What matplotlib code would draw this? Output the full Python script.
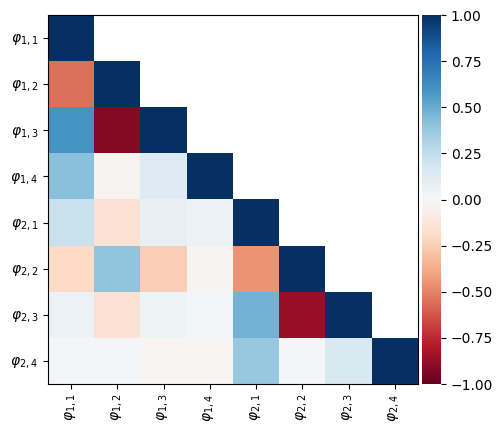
import numpy as np
import matplotlib.pyplot as plt

labels = [r'$\varphi_{1,1}$', r'$\varphi_{1,2}$', r'$\varphi_{1,3}$', r'$\varphi_{1,4}$',
          r'$\varphi_{2,1}$', r'$\varphi_{2,2}$', r'$\varphi_{2,3}$', r'$\varphi_{2,4}$']

# lower triangle rows (below diagonal), diagonal is 1
row_12 = [-0.55]
row_13 = [0.60, -0.92]
row_14 = [0.42, -0.03, 0.13]
row_21 = [0.22, -0.15, 0.08, 0.06]
row_22 = [-0.20, 0.40, -0.25, -0.03, -0.45]
row_23 = [0.06, -0.15, 0.04, 0.01, 0.47, -0.87]
row_24 = [0.01, 0.01, -0.02, -0.01, 0.38, 0.01, 0.15]

rows = [[], row_12, row_13, row_14, row_21, row_22, row_23, row_24]

n = len(labels)
corr = np.full((n, n), np.nan)
for i, r in enumerate(rows):
    corr[i, :len(r)] = r
    corr[i, i] = 1.0

fig = plt.figure(figsize=(5.03, 4.32), dpi=100)
ax = fig.add_axes([48 / 503, 48 / 432, 370 / 503, 369 / 432])
cax = fig.add_axes([422 / 503, 48 / 432, 19 / 503, 369 / 432])

im = ax.imshow(np.ma.masked_invalid(corr), cmap='RdBu', vmin=-1, vmax=1, aspect='auto')
ax.set_xticks(range(n))
ax.set_xticklabels(labels, rotation=90)
ax.set_yticks(range(n))
ax.set_yticklabels(labels)

cb = fig.colorbar(im, cax=cax)
cb.set_ticks(np.arange(-1, 1.01, 0.25))
cb.outline.set_visible(False)

plt.savefig('out.png', dpi=100)
